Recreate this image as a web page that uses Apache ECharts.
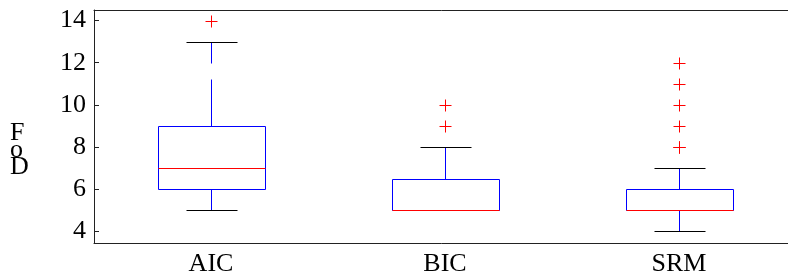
<!DOCTYPE html>
<html>
<head>
<meta charset="utf-8">
<script src="https://cdn.jsdelivr.net/npm/echarts@6/dist/echarts.min.js"></script>
<style>
  html, body { margin: 0; padding: 0; background: #fff; overflow: hidden; }
  #chart { width: 788px; height: 280px; }
</style>
</head>
<body>
<div id="chart"></div>
<script>
// boxplot stats
var categories = ['AIC', 'BIC', 'SRM'];
var whiskerLow = [5, 5, 4];
var q1 = [6, 5, 5];
var median = [7, 5, 5];
var q3 = [9, 6.5, 6];
var whiskerHigh = [13, 8, 7];
var outliers = [[14], [9, 10], [8, 8, 8, 9, 10, 11, 12]];
var yTicks = [4, 6, 8, 10, 12, 14];

var boxData = categories.map(function (c, i) {
    return [i, whiskerLow[i], q1[i], median[i], q3[i], whiskerHigh[i]];
});
var outlierData = [];
outliers.forEach(function (list, i) {
    list.forEach(function (v) { outlierData.push([i, v]); });
});

var serif = 'Liberation Serif';
function px(v) { return Math.round(v) + 0.5; }

var chart = echarts.init(document.getElementById('chart'));

chart.setOption({
    animation: false,
    grid: { left: 94, right: -8, top: 10, bottom: 37, outerBoundsMode: 'none' },
    xAxis: [
        {
            type: 'category',
            data: categories,
            position: 'bottom',
            axisLine: { lineStyle: { color: '#222', width: 1 } },
            axisTick: { inside: true, length: 5, alignWithLabel: true, lineStyle: { color: '#222' } },
            axisLabel: { fontFamily: serif, fontSize: 26, color: '#000', margin: 8 }
        },
        {
            type: 'category',
            data: categories,
            position: 'top',
            axisLine: { lineStyle: { color: '#222', width: 1 } },
            axisTick: { inside: true, length: 5, alignWithLabel: true, lineStyle: { color: '#222' } },
            axisLabel: { show: false }
        }
    ],
    yAxis: {
        type: 'value',
        min: 3.45,
        max: 14.5,
        splitLine: { show: false },
        axisLine: { show: true, lineStyle: { color: '#222', width: 1 } },
        axisTick: { show: true, inside: true, length: 5, customValues: yTicks, lineStyle: { color: '#222' } },
        axisLabel: { customValues: yTicks, fontFamily: serif, fontSize: 26, color: '#000', margin: 8 }
    },
    graphic: [{
        type: 'text',
        left: 10,
        top: 120,
        style: {
            text: 'F\no\nD',
            font: '26px "Liberation Serif"',
            fill: '#000',
            lineHeight: 17,
            align: 'center'
        }
    }],
    series: [
        {
            type: 'custom',
            clip: false,
            data: boxData,
            encode: { x: 0, y: [1, 2, 3, 4, 5] },
            renderItem: function (params, api) {
                var idx = api.value(0);
                var band = api.size([1, 0])[0];
                var boxW = band * 0.453;
                var capW = boxW * 0.48;
                var lo = api.coord([idx, api.value(1)]);
                var b1 = api.coord([idx, api.value(2)]);
                var md = api.coord([idx, api.value(3)]);
                var b3 = api.coord([idx, api.value(4)]);
                var hi = api.coord([idx, api.value(5)]);
                var cx = px(lo[0]);
                var blue = '#0000ff';
                var children = [];
                // whiskers (dashed like matlab)
                children.push({ type: 'line', shape: { x1: cx, y1: px(b3[1]), x2: cx, y2: px(hi[1]) },
                    style: { stroke: blue, lineWidth: 1, lineDash: [47, 16] } });
                children.push({ type: 'line', shape: { x1: cx, y1: px(b1[1]), x2: cx, y2: px(lo[1]) },
                    style: { stroke: blue, lineWidth: 1, lineDash: [47, 16] } });
                // caps
                children.push({ type: 'line', shape: { x1: px(cx - capW / 2), y1: px(hi[1]), x2: px(cx + capW / 2), y2: px(hi[1]) },
                    style: { stroke: '#000', lineWidth: 1 } });
                children.push({ type: 'line', shape: { x1: px(cx - capW / 2), y1: px(lo[1]), x2: px(cx + capW / 2), y2: px(lo[1]) },
                    style: { stroke: '#000', lineWidth: 1 } });
                // box
                var x0 = px(cx - boxW / 2), x1 = px(cx + boxW / 2);
                var yt = px(b3[1]), yb = px(b1[1]);
                children.push({ type: 'rect', shape: { x: x0, y: yt, width: x1 - x0, height: yb - yt },
                    style: { fill: 'none', stroke: blue, lineWidth: 1 } });
                // median
                children.push({ type: 'line', shape: { x1: x0, y1: px(md[1]), x2: x1, y2: px(md[1]) },
                    style: { stroke: '#ff0000', lineWidth: 1 } });
                return { type: 'group', children: children };
            }
        },
        {
            type: 'custom',
            clip: false,
            data: outlierData,
            encode: { x: 0, y: 1 },
            renderItem: function (params, api) {
                var p = api.coord([api.value(0), api.value(1)]);
                var x = px(p[0]), y = px(p[1]), r = 6;
                return {
                    type: 'group',
                    children: [
                        { type: 'line', shape: { x1: x - r, y1: y, x2: x + r, y2: y }, style: { stroke: '#ff0000', lineWidth: 1 } },
                        { type: 'line', shape: { x1: x, y1: y - r, x2: x, y2: y + r }, style: { stroke: '#ff0000', lineWidth: 1 } }
                    ]
                };
            }
        }
    ]
});
</script>
</body>
</html>
